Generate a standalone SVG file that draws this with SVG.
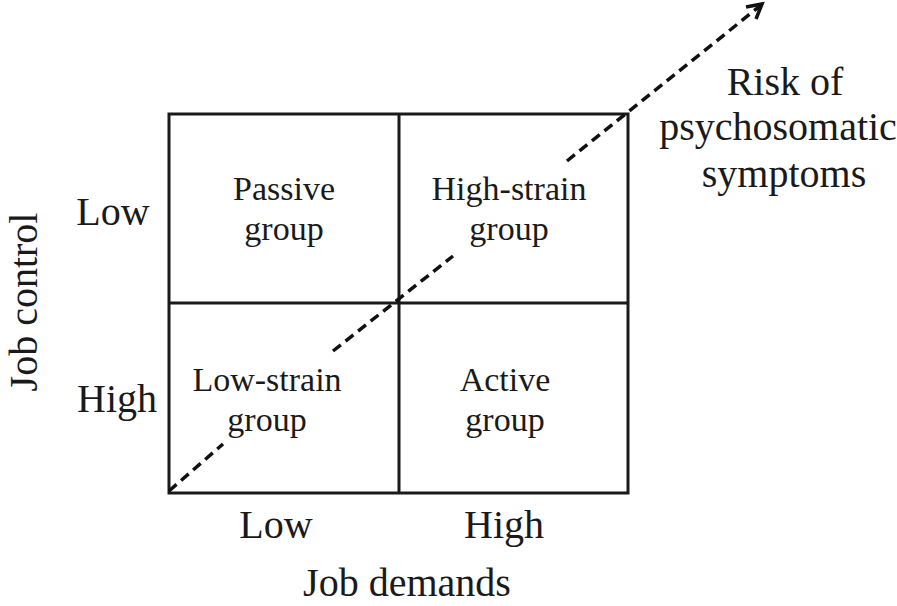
<svg xmlns="http://www.w3.org/2000/svg" width="897" height="606" viewBox="0 0 897 606">
<style>
text{font-family:"Liberation Serif","Times New Roman",serif;fill:#1a1a1a;text-anchor:middle}
.cell{font-size:34px}
.axis{font-size:40px}
.grid{fill:none;stroke:#1a1a1a;stroke-width:3}
.dash{fill:none;stroke:#111;stroke-width:3.5;stroke-dasharray:10 6}
.head{fill:none;stroke:#111;stroke-width:3.5;stroke-linejoin:miter}
</style>
<rect width="897" height="606" fill="#fff"/>
<g id="grid">
<rect class="grid" x="169" y="114" width="459" height="379"/>
<line class="grid" x1="399" y1="114" x2="399" y2="493"/>
<line class="grid" x1="169" y1="303" x2="628" y2="303"/>
</g>
<g id="passive"><text class="cell" x="284" y="200">Passive</text><text class="cell" x="284" y="240">group</text></g>
<g id="high-strain"><text class="cell" x="509" y="200">High-strain</text><text class="cell" x="509" y="240">group</text></g>
<g id="low-strain"><text class="cell" x="267" y="391">Low-strain</text><text class="cell" x="267" y="431">group</text></g>
<g id="active"><text class="cell" x="505" y="391">Active</text><text class="cell" x="505" y="431">group</text></g>
<g id="axis-labels">
<text class="axis" x="113" y="225">Low</text>
<text class="axis" x="117" y="412">High</text>
<text class="axis" transform="translate(37,302) rotate(-90)">Job control</text>
<text class="axis" x="276" y="538">Low</text>
<text class="axis" x="504" y="538">High</text>
<text class="axis" x="407" y="596">Job demands</text>
</g>
<g id="risk"><text class="axis" x="785" y="95">Risk of</text><text class="axis" x="778" y="140">psychosomatic</text><text class="axis" x="784" y="187">symptoms</text></g>
<g id="connectors">
<path class="dash" d="M169,491 L223,444 M333,351 L453,256 M567,161 L760,6"/>
<polyline class="head" points="746,7 762,4 756,19"/>
</g>
</svg>
